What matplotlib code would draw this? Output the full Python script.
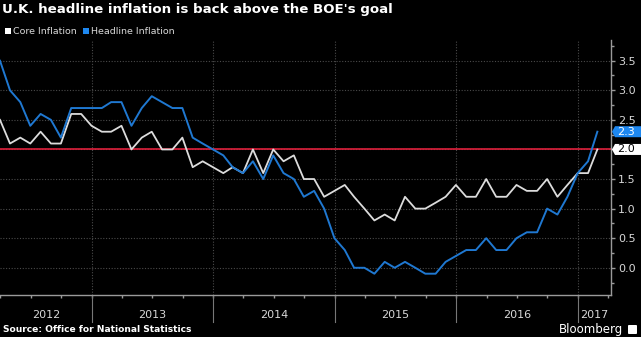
import matplotlib
matplotlib.use("Agg")
import matplotlib.pyplot as plt
import matplotlib.dates as mdates
from matplotlib.patches import Rectangle, Polygon, FancyBboxPatch
import pandas as pd
import numpy as np

# monthly CPI readings, Mar 2012 .. Feb 2017 (plotted at month end)
months = pd.date_range("2012-03-31", periods=60, freq="ME")
headline = [3.5, 3.0, 2.8, 2.4, 2.6, 2.5, 2.2, 2.7, 2.7, 2.7,
            2.7, 2.8, 2.8, 2.4, 2.7, 2.9, 2.8, 2.7, 2.7, 2.2, 2.1, 2.0,
            1.9, 1.7, 1.6, 1.8, 1.5, 1.9, 1.6, 1.5, 1.2, 1.3, 1.0, 0.5,
            0.3, 0.0, 0.0, -0.1, 0.1, 0.0, 0.1, 0.0, -0.1, -0.1, 0.1, 0.2,
            0.3, 0.3, 0.5, 0.3, 0.3, 0.5, 0.6, 0.6, 1.0, 0.9, 1.2, 1.6,
            1.8, 2.3]
core = [2.5, 2.1, 2.2, 2.1, 2.3, 2.1, 2.1, 2.6, 2.6, 2.4,
        2.3, 2.3, 2.4, 2.0, 2.2, 2.3, 2.0, 2.0, 2.2, 1.7, 1.8, 1.7,
        1.6, 1.7, 1.6, 2.0, 1.6, 2.0, 1.8, 1.9, 1.5, 1.5, 1.2, 1.3,
        1.4, 1.2, 1.0, 0.8, 0.9, 0.8, 1.2, 1.0, 1.0, 1.1, 1.2, 1.4,
        1.2, 1.2, 1.5, 1.2, 1.2, 1.4, 1.3, 1.3, 1.5, 1.2, 1.4, 1.6,
        1.6, 2.0]
boe_target = 2.0
years = [2012, 2013, 2014, 2015, 2016, 2017]
yticks = [0.0, 0.5, 1.0, 1.5, 2.0, 2.5, 3.0, 3.5]

BLUE = '#1f78d1'
BLUE_LBL = '#1e88f0'
CORE = '#dcdcdc'
RED = '#e0203c'
GRID = '#4a4a4a'
AXIS = '#9a9a9a'
TXT = '#d8d8d8'

W, H = 641, 337
fig = plt.figure(figsize=(W / 100, H / 100), dpi=100, facecolor='black')
ax = fig.add_axes([0, 1 - 295 / H, 611 / W, (295 - 40) / H])
ax.set_facecolor('black')

x0 = pd.Timestamp("2012-03-31")
x1 = pd.Timestamp("2017-04-10")
ax.set_xlim(x0, x1)
ax.set_ylim(-0.46, 3.85)

# grid
for v in yticks:
    ax.axhline(v, color=GRID, lw=0.8, ls=(0, (1, 1.5)), zorder=1)
for yr in years[1:]:
    ax.axvline(pd.Timestamp(f"{yr}-01-01"), color=GRID, lw=0.8, ls=(0, (1, 1.5)), zorder=1)

ax.axhline(boe_target, color=RED, lw=1.2, zorder=2)
ax.plot(months, core, color=CORE, lw=1.3, zorder=3)
ax.plot(months, headline, color=BLUE, lw=1.4, zorder=4)

# spines
for s in ['left', 'top']:
    ax.spines[s].set_visible(False)
for s in ['right', 'bottom']:
    ax.spines[s].set_color(AXIS)
    ax.spines[s].set_linewidth(1.0)

# the 2.0 tick sits under the core value tag
ax.yaxis.tick_right()
ax.set_yticks(yticks)
ax.set_yticklabels(["" if v == core[-1] else f"{v:.1f}" for v in yticks],
                   fontsize=8, color=TXT)
ax.set_yticks(np.arange(-0.25, 3.8, 0.25), minor=True)
ax.tick_params(axis='y', which='major', length=3, width=1, color=AXIS, pad=2)
ax.tick_params(axis='y', which='minor', length=2, width=1, color=AXIS)

ax.xaxis.set_major_locator(mdates.MonthLocator(bymonth=[1, 4, 7, 10]))
ax.xaxis.set_major_formatter(plt.NullFormatter())
ax.tick_params(axis='x', which='major', length=2, width=1, color=AXIS, direction='out')

# year separators and labels under the axis
xt = ax.get_xaxis_transform()
edges = [x0] + [pd.Timestamp(f"{yr}-01-01") for yr in years[1:]] + [x1]
for e in edges[1:-1]:
    ax.plot([e, e], [0, -0.105], color='#777777', lw=0.8, transform=xt, clip_on=False)
for i, yr in enumerate(years):
    mid = edges[i] + (edges[i + 1] - edges[i]) / 2
    ax.text(mid, -0.078, str(yr), transform=xt, ha='center', va='center',
            fontsize=8, color=TXT)

# value tags on the right axis
fig.canvas.draw()
inv = fig.transFigure.inverted()
for val, face, tc in [(headline[-1], BLUE_LBL, 'white'), (core[-1], 'white', 'black')]:
    xs, yc = ax.transData.transform((mdates.date2num(x1), val))
    h = 5.5
    pts = [(xs + 1, yc), (xs + 4, yc + h), (W + 2, yc + h), (W + 2, yc - h), (xs + 4, yc - h)]
    pts = [inv.transform(p) for p in pts]
    fig.add_artist(Polygon(pts, closed=True, facecolor=face, edgecolor='none',
                           transform=fig.transFigure, zorder=10))
    fx, fy = inv.transform((xs + 6, yc))
    fig.text(fx, fy, f"{val:.1f}", ha='left', va='center',
             fontsize=8, color=tc, zorder=11)

# title / legend / footer
fig.text(2 / W, 1 - 10 / H, "U.K. headline inflation is back above the BOE's goal",
         ha='left', va='center', fontsize=9.6, fontweight='bold', color='white')
fig.add_artist(Rectangle((5 / W, 1 - 34 / H), 6 / W, 6 / H, facecolor='white',
                         edgecolor='none', transform=fig.transFigure))
fig.text(13 / W, 1 - 31 / H, "Core Inflation", ha='left', va='center',
         fontsize=6.8, color=TXT)
fig.add_artist(Rectangle((83 / W, 1 - 34 / H), 6 / W, 6 / H, facecolor=BLUE_LBL,
                         edgecolor='none', transform=fig.transFigure))
fig.text(91 / W, 1 - 31 / H, "Headline Inflation", ha='left', va='center',
         fontsize=6.8, color=TXT)

fig.text(3 / W, 1 - 330 / H, "Source: Office for National Statistics", ha='left',
         va='center', fontsize=6.6, fontweight='bold', color='white')
fig.text(623 / W, 1 - 329 / H, "Bloomberg", ha='right', va='center',
         fontsize=8.5, color='white')
fig.add_artist(FancyBboxPatch((628 / W, 1 - 334 / H), 9 / W, 9 / H,
                              boxstyle='round,pad=0,rounding_size=0.002',
                              facecolor='white', edgecolor='none', transform=fig.transFigure))

fig.savefig("out.png", dpi=100, facecolor='black')
